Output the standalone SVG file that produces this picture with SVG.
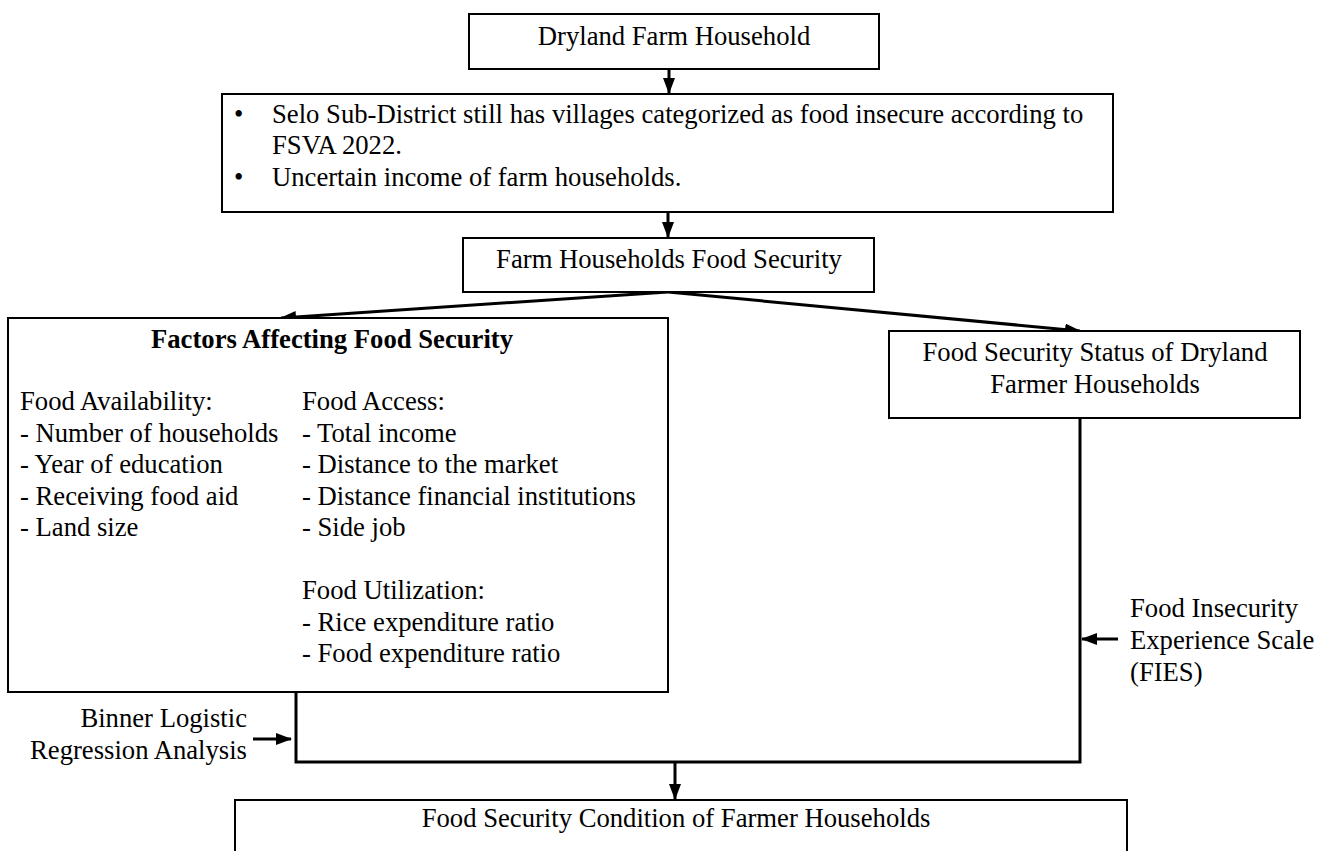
<svg xmlns="http://www.w3.org/2000/svg" width="1327" height="851" viewBox="0 0 1327 851">
<defs>
<marker id="ah" markerUnits="userSpaceOnUse" markerWidth="16" markerHeight="12" refX="15" refY="6" orient="auto">
<path d="M0,0 L16,6 L0,12 Z" fill="#000"/>
</marker>
<style>
.box{fill:#fff;stroke:#000;stroke-width:2}
.t{font-family:"Liberation Serif","Times New Roman",serif;font-size:26.67px;fill:#000}
.c{text-anchor:middle}
.r{text-anchor:end}
.b{font-weight:bold}
.ln{fill:none;stroke:#000;stroke-width:3}
</style>
</defs>
<rect width="1327" height="851" fill="#fff"/>
<g id="connectors">
<line class="ln" x1="669" y1="69" x2="669" y2="93" marker-end="url(#ah)"/>
<line class="ln" x1="668" y1="212" x2="668" y2="237" marker-end="url(#ah)"/>
<line class="ln" x1="668" y1="292" x2="281" y2="318" marker-end="url(#ah)"/>
<line class="ln" x1="668" y1="292" x2="1080" y2="331" marker-end="url(#ah)"/>
<polyline class="ln" points="296,692 296,762 1080,762 1080,418"/>
<line class="ln" x1="675" y1="762" x2="675" y2="799" marker-end="url(#ah)"/>
<line class="ln" x1="253" y1="739" x2="291" y2="739" marker-end="url(#ah)"/>
<line class="ln" x1="1118" y1="639" x2="1082" y2="639" marker-end="url(#ah)"/>
</g>
<g id="n1">
<rect class="box" x="469" y="14" width="410" height="55"/>
<text class="t c" x="674" y="45">Dryland Farm Household</text>
</g>
<g id="n2">
<rect class="box" x="222" y="94" width="891" height="118"/>
<text class="t" x="234" y="123">•</text>
<text class="t" x="272" y="123">Selo Sub-District still has villages categorized as food insecure according to</text>
<text class="t" x="272" y="154">FSVA 2022.</text>
<text class="t" x="234" y="186">•</text>
<text class="t" x="272" y="186">Uncertain income of farm households.</text>
</g>
<g id="n3">
<rect class="box" x="463" y="238" width="411" height="54"/>
<text class="t c" x="669" y="268">Farm Households Food Security</text>
</g>
<g id="n4">
<rect class="box" x="8" y="318" width="660" height="374"/>
<text class="t c b" x="332" y="348">Factors Affecting Food Security</text>
<text class="t" x="20" y="410">Food Availability:</text>
<text class="t" x="20" y="441.5">- Number of households</text>
<text class="t" x="20" y="473">- Year of education</text>
<text class="t" x="20" y="504.5">- Receiving food aid</text>
<text class="t" x="20" y="536">- Land size</text>
<text class="t" x="302" y="410">Food Access:</text>
<text class="t" x="302" y="441.5">- Total income</text>
<text class="t" x="302" y="473">- Distance to the market</text>
<text class="t" x="302" y="504.5">- Distance financial institutions</text>
<text class="t" x="302" y="536">- Side job</text>
<text class="t" x="302" y="599">Food Utilization:</text>
<text class="t" x="302" y="630.5">- Rice expenditure ratio</text>
<text class="t" x="302" y="662">- Food expenditure ratio</text>
</g>
<g id="n5">
<rect class="box" x="889" y="331" width="411" height="87"/>
<text class="t c" x="1095" y="361">Food Security Status of Dryland</text>
<text class="t c" x="1095" y="393">Farmer Households</text>
</g>
<g id="n6">
<rect class="box" x="235" y="800" width="892" height="70"/>
<text class="t c" x="676" y="827">Food Security Condition of Farmer Households</text>
</g>
<g id="l1">
<text class="t r" x="247" y="727">Binner Logistic</text>
<text class="t r" x="247" y="759">Regression Analysis</text>
</g>
<g id="l2">
<text class="t" x="1130" y="617">Food Insecurity</text>
<text class="t" x="1130" y="649">Experience Scale</text>
<text class="t" x="1130" y="681">(FIES)</text>
</g>
</svg>
